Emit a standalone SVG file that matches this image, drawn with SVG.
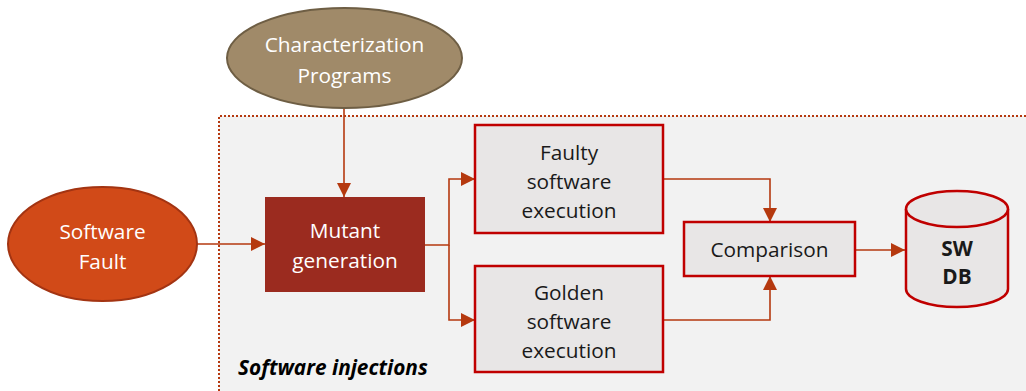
<svg xmlns="http://www.w3.org/2000/svg" width="1026" height="391" viewBox="0 0 1026 391">
<defs>
<style>
.txt{font-family:"Open Sans","Liberation Sans",sans-serif;font-size:20.8px;text-anchor:middle}
.w{fill:#ffffff}
.k{fill:#1a1a1a}
.box{fill:#e8e6e6;stroke:#c00000;stroke-width:2.5}
.conn{fill:none;stroke:#b5390f;stroke-width:1.6}
</style>
<marker id="a" viewBox="0 0 12 12" refX="12" refY="6" markerWidth="14" markerHeight="14" markerUnits="userSpaceOnUse" orient="auto">
<path d="M0,0 L12,6 L0,12 z" fill="#b5390f"/>
</marker>
</defs>
<rect width="1026" height="391" fill="#ffffff"/>
<g id="region">
<rect x="219" y="116" width="820" height="290" fill="#f2f2f2"/>
<path d="M219,391 L219,116 L1026,116" fill="none" stroke="#b5390f" stroke-width="2" stroke-dasharray="2 2"/>
<text x="238" y="375" style="font-family:'Open Sans','Liberation Sans',sans-serif;font-size:20.8px;font-style:italic;font-weight:bold" fill="#000">Software injections</text>
</g>
<g id="connectors">
<path class="conn" d="M344,108 L344,197" marker-end="url(#a)"/>
<path class="conn" d="M197,244 L265,244" marker-end="url(#a)"/>
<path class="conn" d="M425,245 L449,245 L449,179 L475,179" marker-end="url(#a)"/>
<path class="conn" d="M449,245 L449,320 L475,320" marker-end="url(#a)"/>
<path class="conn" d="M663,179 L770,179 L770,222" marker-end="url(#a)"/>
<path class="conn" d="M663,320 L770,320 L770,276" marker-end="url(#a)"/>
<path class="conn" d="M855,250 L905,250" marker-end="url(#a)"/>
</g>
<g id="characterization">
<ellipse cx="344.5" cy="58" rx="117.5" ry="50" fill="#a08a69" stroke="#6e5e44" stroke-width="2"/>
<text class="txt w" x="344.5" y="52">Characterization</text>
<text class="txt w" x="344.5" y="83">Programs</text>
</g>
<g id="software-fault">
<ellipse cx="102.5" cy="244" rx="94.5" ry="57" fill="#d14a18" stroke="#a33412" stroke-width="2"/>
<text class="txt w" x="102.5" y="239">Software</text>
<text class="txt w" x="102.5" y="269">Fault</text>
</g>
<g id="mutant">
<rect x="265" y="197" width="160" height="95" fill="#9b2b1f"/>
<text class="txt w" x="345" y="238">Mutant</text>
<text class="txt w" x="345" y="268">generation</text>
</g>
<g id="faulty">
<rect class="box" x="475" y="125" width="188" height="108"/>
<text class="txt k" x="569" y="160">Faulty</text>
<text class="txt k" x="569" y="189">software</text>
<text class="txt k" x="569" y="218">execution</text>
</g>
<g id="golden">
<rect class="box" x="475" y="266" width="188" height="106"/>
<text class="txt k" x="569" y="300">Golden</text>
<text class="txt k" x="569" y="329">software</text>
<text class="txt k" x="569" y="358">execution</text>
</g>
<g id="comparison">
<rect class="box" x="684" y="222" width="171" height="54"/>
<text class="txt k" x="769.5" y="257">Comparison</text>
</g>
<g id="swdb">
<path d="M906,209 L906,289 A51,18 0 0 0 1008,289 L1008,209" fill="#e8e6e6" stroke="#c00000" stroke-width="2.5"/>
<ellipse cx="957" cy="209" rx="51" ry="18" fill="#e8e6e6" stroke="#c00000" stroke-width="2.5"/>
<text class="txt k" x="957" y="256" style="font-weight:bold">SW</text>
<text class="txt k" x="957" y="284" style="font-weight:bold">DB</text>
</g>
</svg>
